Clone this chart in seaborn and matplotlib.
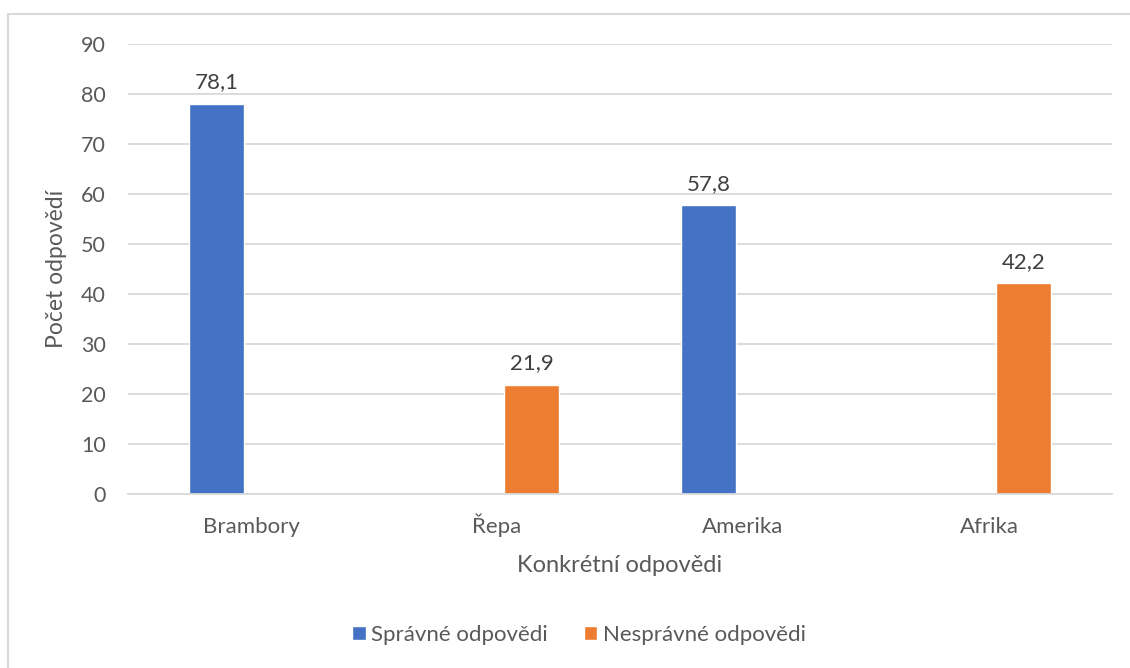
import numpy as np
import pandas as pd
import matplotlib
matplotlib.use("Agg")
import matplotlib.pyplot as plt
import seaborn as sns

# values
categories = ["Brambory", "Řepa", "Amerika", "Afrika"]
spravne = [78.1, np.nan, 57.8, np.nan]
nespravne = [np.nan, 21.9, np.nan, 42.2]
series = ["Správné odpovědi", "Nesprávné odpovědi"]
colors = ["#4472C4", "#ED7D31"]

df = pd.DataFrame({
    "kategorie": categories * 2,
    "hodnota": spravne + nespravne,
    "serie": [series[0]] * 4 + [series[1]] * 4,
})

sns.set_style("white")
plt.rcParams["font.family"] = ["Lato", "DejaVu Sans"]
text_col = "#595959"
grid_col = "#D9D9D9"

fig = plt.figure(figsize=(11.3, 6.68), dpi=100)
ax = fig.add_axes([128 / 1130, 1 - 494 / 668, 984 / 1130, 450 / 668])

sns.barplot(data=df, x="kategorie", y="hodnota", hue="serie",
            order=categories, hue_order=series, palette=colors,
            width=0.561, gap=0.2, saturation=1, ax=ax, legend=True)

ax.set_ylim(0, 90)
ax.set_yticks(range(0, 91, 10))
ax.set_xlim(-0.5, 3.5)
ax.yaxis.grid(True, color=grid_col, linewidth=1.3)
ax.set_axisbelow(True)
for s in ["top", "right", "left"]:
    ax.spines[s].set_visible(False)
ax.spines["bottom"].set_color(grid_col)
ax.spines["bottom"].set_linewidth(1.3)
ax.tick_params(axis="both", length=0, colors=text_col)
ax.tick_params(axis="x", pad=28, labelsize=16)
ax.tick_params(axis="y", pad=16, labelsize=15.5)
for lab in ax.get_xticklabels():
    lab.set_verticalalignment("baseline")

ax.set_xlabel("Konkrétní odpovědi", fontsize=17, color=text_col, labelpad=13)
ax.set_ylabel("Počet odpovědí", fontsize=16.5, color=text_col, labelpad=10)

for cont in ax.containers:
    ax.bar_label(cont, labels=[("" if np.isnan(v) else f"{v:.1f}".replace(".", ","))
                               for v in cont.datavalues],
                 padding=8, fontsize=16, color="#404040")

handles, labels = ax.get_legend_handles_labels()
ax.legend(handles, labels, loc="center", bbox_to_anchor=(579 / 1130, 1 - 635 / 668),
          bbox_transform=fig.transFigure, ncol=2, frameon=False, fontsize=16,
          labelcolor=text_col, handlelength=0.6, handleheight=0.6,
          handletextpad=0.25, columnspacing=1.6)

# chart area border (only top and left visible in the crop)
fig.add_artist(plt.Line2D([8 / 1130, 8 / 1130], [0, 1 - 14 / 668],
                          transform=fig.transFigure, color="#D9D9D9", linewidth=1.5))
fig.add_artist(plt.Line2D([8 / 1130, 1], [1 - 14 / 668, 1 - 14 / 668],
                          transform=fig.transFigure, color="#D9D9D9", linewidth=1.5))

fig.savefig("out.png", dpi=100)
